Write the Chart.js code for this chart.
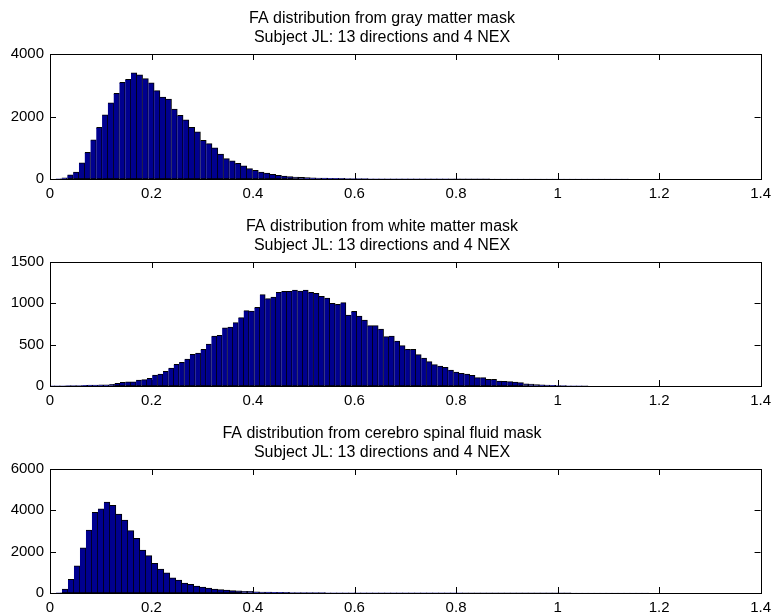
<!DOCTYPE html>
<html>
<head>
<meta charset="utf-8">
<script src="https://cdn.jsdelivr.net/npm/chart.js@4/dist/chart.umd.min.js"></script>
<style>
    body { margin: 0; background: #fff; width: 777px; height: 613px; overflow: hidden; position: relative; }
    canvas { position: absolute; left: 0; }
</style>
</head>
<body>
<canvas id="grayChart" width="777" height="198" style="top:0px"></canvas>
<canvas id="whiteChart" width="777" height="197" style="top:208px"></canvas>
<canvas id="csfChart" width="777" height="197" style="top:415px"></canvas>
<script>
    // FA histograms, one per tissue mask. Counts per bin, bins start at 0.
    const subjectLine = 'Subject JL: 13 directions and 4 NEX';
    const xTicks = [0, 0.2, 0.4, 0.6, 0.8, 1, 1.2, 1.4];

    const grayBinWidth = 0.0114;
    const grayCounts = [
        0, 5, 40, 130, 220, 520, 850, 1250, 1650, 2050,
        2440, 2740, 3090, 3190, 3400, 3330, 3210, 3080, 2830, 2620,
        2560, 2240, 2040, 1890, 1650, 1510, 1240, 1130, 1000, 800,
        650, 580, 500, 420, 330, 280, 220, 190, 150, 120,
        96, 74, 64, 50, 44, 38, 33, 28, 24, 21,
        18, 15, 13, 11, 10, 9, 8, 7, 6, 6,
        5, 5, 4, 4, 4, 3, 3, 3, 3, 2,
        2, 2, 2, 2, 2, 2, 1, 1, 1, 1,
        1, 1, 1, 1, 1, 1, 1, 1, 1, 1,
        1, 1, 1, 1, 1, 1, 1, 1, 1, 1
    ];
    const grayTicksY = [0, 2000, 4000];

    const whiteBinWidth = 0.0106;
    const whiteCounts = [
        2, 3, 3, 4, 5, 5, 8, 10, 10, 15,
        15, 20, 33, 45, 50, 50, 73, 77, 93, 133,
        145, 178, 218, 262, 286, 327, 383, 399, 444, 508,
        605, 613, 705, 714, 766, 827, 911, 907, 952, 1105,
        1056, 1077, 1133, 1145, 1145, 1161, 1149, 1161, 1133, 1121,
        1085, 1065, 1000, 988, 1008, 859, 903, 847, 798, 730,
        730, 690, 597, 605, 544, 488, 444, 444, 379, 339,
        294, 258, 242, 226, 194, 169, 153, 145, 129, 101,
        101, 81, 81, 60, 56, 52, 48, 40, 25, 22,
        18, 15, 12, 8, 6, 4, 3, 2, 2, 1
    ];
    const whiteTicksY = [0, 500, 1000, 1500];

    const csfBinWidth = 0.0118;
    const csfCounts = [
        0, 10, 190, 660, 1310, 2190, 3050, 3900, 4070, 4400,
        4240, 3820, 3530, 3020, 2650, 2080, 1810, 1440, 1160, 980,
        740, 630, 480, 420, 340, 290, 240, 190, 160, 145,
        120, 110, 80, 80, 60, 50, 40, 36, 32, 28,
        25, 22, 20, 18, 16, 15, 14, 13, 12, 11,
        10, 10, 9, 9, 8, 8, 8, 7, 7, 7,
        6, 6, 6, 6, 5, 5, 5, 5, 5, 4,
        4, 4, 4, 4, 4, 4, 3, 3, 3, 3,
        3, 3, 3, 3, 3, 3, 3, 2, 2, 2,
        2, 2, 2, 2, 2, 2, 2, 2, 2, 2
    ];
    const csfTicksY = [0, 2000, 4000, 6000];

    const fontFamily = '"Liberation Sans", Arial, Helvetica, sans-serif';
    const barFill = 'rgb(0, 0, 143)';
    const tickLen = 6;

    // matlab style box with inward tick marks on all four sides
    const axesBox = {
        id: 'axesBox',
        beforeDatasetsDraw(chart) {
            const { ctx, chartArea: a, scales: { x, y } } = chart;
            ctx.save();
            ctx.strokeStyle = '#000';
            ctx.lineWidth = 1;
            ctx.beginPath();
            x.ticks.forEach(t => {
                const px = Math.round(x.getPixelForValue(t.value)) + 0.5;
                ctx.moveTo(px, a.bottom);
                ctx.lineTo(px, a.bottom - tickLen);
                ctx.moveTo(px, a.top);
                ctx.lineTo(px, a.top + tickLen);
            });
            y.ticks.forEach(t => {
                const py = Math.round(y.getPixelForValue(t.value)) + 0.5;
                ctx.moveTo(a.left, py);
                ctx.lineTo(a.left + tickLen, py);
                ctx.moveTo(a.right, py);
                ctx.lineTo(a.right - tickLen, py);
            });
            ctx.stroke();
            ctx.restore();
        },
        afterDatasetsDraw(chart) {
            const { ctx, chartArea: a } = chart;
            ctx.save();
            ctx.strokeStyle = '#000';
            ctx.lineWidth = 1;
            ctx.strokeRect(Math.round(a.left) + 0.5, Math.round(a.top) + 0.5,
                Math.round(a.right - a.left), Math.round(a.bottom - a.top));
            ctx.restore();
        }
    };

    const makeHistogram = (canvasId, maskName, binWidth, counts, yTicks) => {
        const points = counts.map((c, i) => ({ x: (i + 0.5) * binWidth, y: c }));
        const tickFont = { family: fontFamily, size: 15 };

        return new Chart(document.getElementById(canvasId), {
            type: 'bar',
            data: {
                datasets: [{
                    data: points,
                    backgroundColor: barFill,
                    borderColor: '#000',
                    borderWidth: 1,
                    borderSkipped: 'left',
                    barPercentage: 1,
                    categoryPercentage: 1
                }]
            },
            options: {
                responsive: false,
                animation: false,
                events: [],
                layout: { padding: { left: 0, right: 13, top: 0, bottom: 0 } },
                plugins: {
                    legend: { display: false },
                    tooltip: { enabled: false },
                    title: {
                        display: true,
                        text: ['FA distribution from ' + maskName + ' mask', subjectLine],
                        color: '#000',
                        font: { family: fontFamily, size: 16, weight: 'normal', lineHeight: 19 / 16 },
                        padding: { top: 9, bottom: 7 }
                    }
                },
                scales: {
                    x: {
                        type: 'linear',
                        min: xTicks[0],
                        max: xTicks[xTicks.length - 1],
                        offset: false,
                        grid: { display: false, drawTicks: false },
                        border: { display: false },
                        afterBuildTicks: s => { s.ticks = xTicks.map(v => ({ value: v })); },
                        ticks: {
                            autoSkip: false,
                            maxRotation: 0,
                            padding: 6,
                            color: '#000',
                            font: tickFont,
                            callback: v => String(Number(v.toFixed(1)))
                        },
                        afterFit: s => { s.height = 19; }
                    },
                    y: {
                        min: yTicks[0],
                        max: yTicks[yTicks.length - 1],
                        grid: { display: false, drawTicks: false },
                        border: { display: false },
                        afterBuildTicks: s => { s.ticks = yTicks.map(v => ({ value: v })); },
                        ticks: {
                            padding: 6,
                            color: '#000',
                            font: tickFont,
                            callback: v => String(v)
                        },
                        afterFit: s => { s.width = 50; }
                    }
                }
            },
            plugins: [axesBox]
        });
    };

    makeHistogram('grayChart', 'gray matter', grayBinWidth, grayCounts, grayTicksY);
    makeHistogram('whiteChart', 'white matter', whiteBinWidth, whiteCounts, whiteTicksY);
    makeHistogram('csfChart', 'cerebro spinal fluid', csfBinWidth, csfCounts, csfTicksY);
</script>
</body>
</html>
